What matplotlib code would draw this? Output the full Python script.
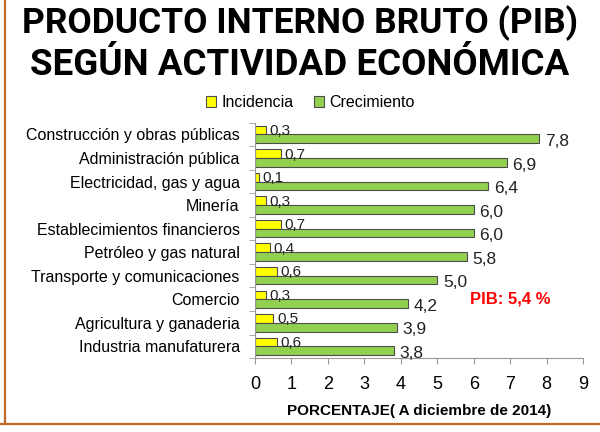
import numpy as np
import matplotlib.pyplot as plt
from matplotlib.lines import Line2D

plt.rcParams['font.family'] = ['Liberation Sans', 'DejaVu Sans']

# datos (de abajo hacia arriba)
sectores = ["Industria manufaturera", "Agricultura y ganaderia", "Comercio",
            "Transporte y comunicaciones", "Petróleo y gas natural",
            "Establecimientos financieros", "Minería", "Electricidad, gas y agua",
            "Administración pública", "Construcción y obras públicas"]
incidencia = [0.6, 0.5, 0.3, 0.6, 0.4, 0.7, 0.3, 0.1, 0.7, 0.3]
crecimiento = [3.8, 3.9, 4.2, 5.0, 5.8, 6.0, 6.0, 6.4, 6.9, 7.8]
pib_total = 5.4

def coma(v):
    return f"{v:.1f}".replace(".", ",")

fig = plt.figure(figsize=(6, 4.32), dpi=100)
ax = fig.add_axes([0.425, 0.171, 0.547, 0.545])

y = np.arange(len(sectores))
h = 0.37
ax.barh(y + h / 2, incidencia, height=h, color="#ffff00", edgecolor="#4d4d4d",
        linewidth=0.8, label="Incidencia")
ax.barh(y - h / 2, crecimiento, height=h, color="#92d050", edgecolor="#4d4d4d",
        linewidth=0.8, label="Crecimiento")

# etiquetas de valores
for yi, v in zip(y, incidencia):
    ax.text(v + 0.1, yi + h / 2 - 0.04, coma(v), va="center", fontsize=11,
            color="#222222")
for yi, v in zip(y, crecimiento):
    ax.text(v + 0.15, yi - h / 2 - 0.12, coma(v), va="center", fontsize=12.5,
            color="#222222")

ax.set_xlim(0, 9)
ax.set_ylim(-0.5, len(sectores) - 0.5)
ax.set_xticks(range(10))
ax.tick_params(axis="x", labelsize=13, length=4, color="#999999", pad=9)
ax.set_yticks(y)
ax.set_yticklabels(sectores, fontsize=11.5)
ax.set_yticks(np.arange(-0.5, len(sectores), 1), minor=True)
ax.tick_params(axis="y", which="major", length=0, pad=11)
ax.tick_params(axis="y", which="minor", length=4, color="#999999")
for s in ["top", "right"]:
    ax.spines[s].set_visible(False)
for s in ["left", "bottom"]:
    ax.spines[s].set_color("#999999")

ax.set_xlabel("PORCENTAJE( A diciembre de 2014)", fontsize=11,
              fontweight="bold", labelpad=8)
ax.text(5.9, 2.0, "PIB: " + coma(pib_total) + " %", color="#ff0000",
        fontsize=12, fontweight="bold", va="center")

fig.legend(loc="center", bbox_to_anchor=(0.517, 0.762), ncol=2,
           frameon=False, fontsize=11.5, handlelength=0.65,
           handleheight=0.65, handletextpad=0.3, columnspacing=1.3)

titulo_fuente = ["Roboto", "Liberation Sans"]
fig.text(0.5, 0.946, "PRODUCTO INTERNO BRUTO (PIB)", ha="center", va="center",
         fontsize=25.5, fontweight="bold", family=titulo_fuente)
fig.text(0.5, 0.85, "SEGÚN ACTIVIDAD ECONÓMICA", ha="center", va="center",
         fontsize=26.5, fontweight="bold", family=titulo_fuente)

# marco naranja
fig.add_artist(Line2D([0.008, 0.008], [0.018, 1.0], color="#c0692a", lw=1.6,
                      transform=fig.transFigure))
fig.add_artist(Line2D([0.0, 1.0], [0.018, 0.018], color="#c0692a", lw=1.6,
                      transform=fig.transFigure))

fig.savefig("out.png", dpi=100)
